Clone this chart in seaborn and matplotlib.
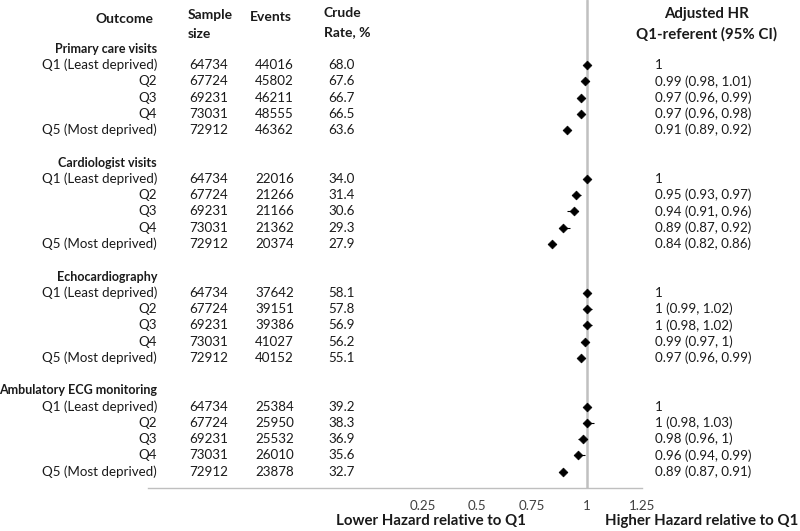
import matplotlib
matplotlib.use("Agg")
import matplotlib.pyplot as plt
import matplotlib.transforms as mtransforms
import numpy as np
import pandas as pd
import seaborn as sns

outcomes = ["Primary care visits", "Cardiologist visits", "Echocardiography",
            "Ambulatory ECG monitoring"]
quintiles = ["Q1 (Least deprived)", "Q2", "Q3", "Q4", "Q5 (Most deprived)"]
sample_size = [64734, 67724, 69231, 73031, 72912]
events = [
    [44016, 45802, 46211, 48555, 46362],
    [22016, 21266, 21166, 21362, 20374],
    [37642, 39151, 39386, 41027, 40152],
    [25384, 25950, 25532, 26010, 23878],
]
crude_rate = [
    [68.0, 67.6, 66.7, 66.5, 63.6],
    [34.0, 31.4, 30.6, 29.3, 27.9],
    [58.1, 57.8, 56.9, 56.2, 55.1],
    [39.2, 38.3, 36.9, 35.6, 32.7],
]
hr = [
    [1, 0.99, 0.97, 0.97, 0.91],
    [1, 0.95, 0.94, 0.89, 0.84],
    [1, 1, 1, 0.99, 0.97],
    [1, 1, 0.98, 0.96, 0.89],
]
hr_low = [
    [None, 0.98, 0.96, 0.96, 0.89],
    [None, 0.93, 0.91, 0.87, 0.82],
    [None, 0.99, 0.98, 0.97, 0.96],
    [None, 0.98, 0.96, 0.94, 0.87],
]
hr_high = [
    [None, 1.01, 0.99, 0.98, 0.92],
    [None, 0.97, 0.96, 0.92, 0.86],
    [None, 1.02, 1.02, 1, 0.99],
    [None, 1.03, 1, 0.99, 0.91],
]

rows = []
for g, name in enumerate(outcomes):
    for i, q in enumerate(quintiles):
        rows.append({
            "outcome": name, "quintile": q, "row": g * 7 + 1 + i,
            "n": sample_size[i], "events": events[g][i],
            "rate": crude_rate[g][i], "hr": hr[g][i],
            "lo": hr_low[g][i], "hi": hr_high[g][i],
        })
df = pd.DataFrame(rows)

def fmt(v):
    return f"{v:g}"

def hr_label(r):
    if pd.isna(r["lo"]):
        return fmt(r["hr"])
    return f"{fmt(r['hr'])} ({fmt(r['lo'])}, {fmt(r['hi'])})"

sns.set_theme(style="white")
plt.rcParams["font.family"] = ["Lato", "DejaVu Sans"]
txt = "#1a1a1a"
fs = 9.6

fig = plt.figure(figsize=(8, 5.31), dpi=100)
ax = fig.add_axes([148 / 800, 1 - 488 / 531, 494 / 800, 488 / 531])

ax.axvline(1, color="#c0c0c0", lw=1.8, zorder=1)
ci = df.dropna(subset=["lo"])
ax.hlines(ci["row"], ci["lo"], ci["hi"], color="black", lw=0.8, zorder=2)
sns.scatterplot(data=df, x="hr", y="row", marker="D", s=20, color="black",
                edgecolor="black", linewidth=0.5, ax=ax, zorder=3, legend=False)

ax.set_xlim(-1, 1.25)
ax.set_ylim(27, -3)
ticks = np.arange(-1, 1.26, 0.25)
ax.set_xticks(ticks)
ax.set_xticklabels([fmt(t) if t > 0 else "" for t in ticks], fontsize=fs,
                   color="#404040")
ax.set_yticks([])
ax.set_xlabel("")
ax.set_ylabel("")
for s in ["top", "right", "left"]:
    ax.spines[s].set_visible(False)
ax.spines["bottom"].set_color("#bfbfbf")
ax.spines["bottom"].set_linewidth(1)
ax.tick_params(axis="x", direction="out", length=4, color="#bfbfbf", pad=5)

trans = mtransforms.blended_transform_factory(fig.transFigure, ax.transData)
def px(x):
    return x / 800

for _, r in df.iterrows():
    y = r["row"]
    ax.text(px(157), y, r["quintile"], transform=trans, ha="right", va="center",
            fontsize=fs, color=txt, clip_on=False)
    ax.text(px(189), y, str(r["n"]), transform=trans, ha="left", va="center",
            fontsize=fs, color=txt, clip_on=False)
    ax.text(px(255), y, str(r["events"]), transform=trans, ha="left",
            va="center", fontsize=fs, color=txt, clip_on=False)
    ax.text(px(328), y, f"{r['rate']:.1f}", transform=trans, ha="left",
            va="center", fontsize=fs, color=txt, clip_on=False)
    ax.text(px(655), y, hr_label(r), transform=trans, ha="left", va="center",
            fontsize=fs, color=txt, clip_on=False)

for g, name in enumerate(outcomes):
    ax.text(px(157), g * 7, name, transform=trans, ha="right", va="center",
            fontsize=9.0, fontweight="bold", color=txt, clip_on=False)

def ftext(x, y, s, size=10, **kw):
    fig.text(px(x), 1 - y / 531, s, fontsize=size, fontweight="bold",
             color=txt, va="center", **kw)

ftext(153, 19, "Outcome", ha="right")
ftext(188, 15, "Sample", ha="left")
ftext(188, 34, "size", ha="left")
ftext(250, 17, "Events", ha="left")
ftext(324, 13, "Crude", ha="left")
ftext(324, 32, "Rate, %", ha="left")
ftext(707, 14, "Adjusted HR", size=10.8, ha="center")
ftext(707, 34, "Q1-referent (95% CI)", size=10.8, ha="center")
ftext(526, 521, "Lower Hazard relative to Q1", size=10.8, ha="right")
ftext(605, 521, "Higher Hazard relative to Q1", size=10.8, ha="left")

fig.savefig("out.png", dpi=100)
